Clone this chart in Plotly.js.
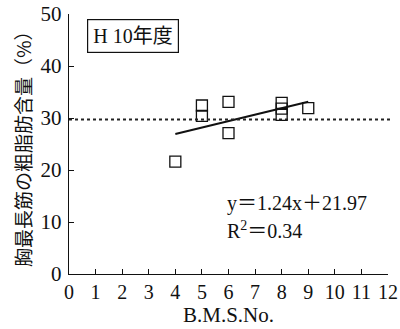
<!DOCTYPE html>
<html><head><meta charset="utf-8">
<script src="https://cdn.plot.ly/plotly-3.0.1.min.js"></script>
<style>html,body{margin:0;padding:0;background:#fff}#c{width:400px;height:329px}</style>
</head><body><div id="c"></div>
<script>
const bmsNo = [4, 5, 5, 6, 6, 8, 8, 8, 9];
const fatPct = [21.6, 32.4, 30.4, 33.1, 27.1, 32.9, 31.8, 30.6, 31.9];
const fitRange = [4, 9];
const fitSlope = 1.24, fitIntercept = 21.97;
const refLevel = [29.7];
const xTicks = [0,1,2,3,4,5,6,7,8,9,10,11,12];
const yTicks = [0,10,20,30,40,50];
const F = '"Liberation Serif","DejaVu Serif","Noto Sans CJK JP",serif';
const C = '#111';

const data = [
  {x: bmsNo, y: fatPct, mode: 'markers', type: 'scatter',
   marker: {symbol: 'square-open', size: 11, color: C, line: {width: 1.3, color: C}},
   hoverinfo: 'none', cliponaxis: false},
  {x: fitRange, y: fitRange.map(v => fitSlope * v + fitIntercept), mode: 'lines', type: 'scatter',
   line: {color: C, width: 2}, hoverinfo: 'none'}
];
const layout = {
  width: 400, height: 329,
  margin: {l: 69, r: 12, t: 14, b: 55},
  paper_bgcolor: '#fff', plot_bgcolor: '#fff',
  showlegend: false,
  font: {family: F, color: C, size: 18},
  xaxis: {range: [0, 12], tickvals: xTicks, ticks: 'inside', ticklen: 5, tickcolor: C, color: C,
          showline: true, linecolor: C, linewidth: 1.3, showgrid: false, zeroline: false,
          tickfont: {family: F, size: 20, color: C}, ticklabelstandoff: 0, fixedrange: true,
          title: {text: 'B.M.S.No.', font: {family: F, size: 21, color: C}, standoff: 1}},
  yaxis: {range: [0, 50], tickvals: yTicks, ticks: 'inside', ticklen: 5, tickcolor: C, color: C,
          showline: true, linecolor: C, linewidth: 1.3, showgrid: false, zeroline: false,
          tickfont: {family: F, size: 21, color: C}, ticklabelstandoff: 2, fixedrange: true},
  shapes: [
    {type: 'line', xref: 'paper', yref: 'y', x0: 0, x1: 1.01, y0: refLevel[0], y1: refLevel[0],
     line: {color: '#222', width: 2, dash: 'dot'}}
  ],
  annotations: [
    {xref: 'paper', yref: 'paper', x: -0.147, y: 0.5, xanchor: 'center', yanchor: 'middle',
     textangle: -90, text: '胸最長筋の粗脂肪含量（%）', showarrow: false,
     font: {family: '"Noto Sans CJK JP",serif', size: 19, color: C}},
    {xref: 'paper', yref: 'paper', x: 0.055, y: 0.98, xanchor: 'left', yanchor: 'top',
     text: 'H 10年度', showarrow: false, font: {family: F, size: 20, color: C},
     bordercolor: C, borderwidth: 1.2, borderpad: 5, bgcolor: '#fff'},
    {xref: 'paper', yref: 'paper', x: 0.49, y: 0.22, xanchor: 'left', yanchor: 'bottom',
     text: 'y＝1.24x＋21.97', showarrow: false, font: {family: F, size: 20, color: C}},
    {xref: 'paper', yref: 'paper', x: 0.49, y: 0.225, xanchor: 'left', yanchor: 'top',
     text: 'R<sup>2</sup>＝0.34', showarrow: false, font: {family: F, size: 20, color: C}}
  ]
};
Plotly.newPlot('c', data, layout, {staticPlot: true, displayModeBar: false});
</script></body></html>
